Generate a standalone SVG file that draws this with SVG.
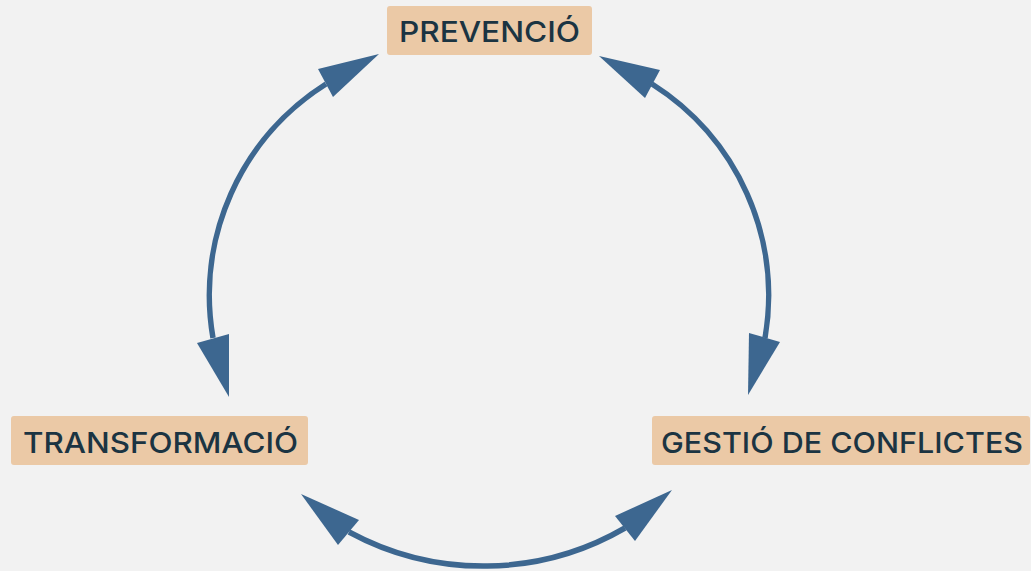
<svg xmlns="http://www.w3.org/2000/svg" width="1031" height="571" viewBox="0 0 1031 571">
<style>
.box{fill:#ebc9a6;}
.lbl{font-family:Inter,"Open Sans","Liberation Sans",sans-serif;font-size:29px;font-weight:500;fill:#1b3442;}
.arc{fill:none;stroke:#3d6790;stroke-width:5.5;}
.ah{fill:#3d6790;}
</style>
<rect width="1031" height="571" fill="#f2f2f2"/>
<g id="connectors">
<path class="arc" d="M326,84 A250,250 0 0 0 213,338"/>
<polygon class="ah" points="379,54 318,69 333,97"/>
<polygon class="ah" points="229,397 197,343 229,334"/>
<path class="arc" d="M652,84 A250,250 0 0 1 765,338"/>
<polygon class="ah" points="599,56 660,70 645,98"/>
<polygon class="ah" points="748,395 749,333 780,342"/>
<path class="arc" d="M349,532 A282,282 0 0 0 625,528"/>
<polygon class="ah" points="301,494 359,520 338,545"/>
<polygon class="ah" points="672,490 615,516 635,541"/>
</g>
<g id="prevencio">
<rect class="box" x="387" y="6" width="205" height="49" rx="3"/>
<text class="lbl" x="399" y="42" textLength="181" lengthAdjust="spacingAndGlyphs">PREVENCIÓ</text>
</g>
<g id="transformacio">
<rect class="box" x="11" y="416" width="297" height="49" rx="3"/>
<text class="lbl" x="23" y="453" textLength="275" lengthAdjust="spacingAndGlyphs">TRANSFORMACIÓ</text>
</g>
<g id="gestio">
<rect class="box" x="652" y="416" width="378" height="49" rx="3"/>
<text class="lbl" x="661" y="453" textLength="362" lengthAdjust="spacingAndGlyphs">GESTIÓ DE CONFLICTES</text>
</g>
</svg>
